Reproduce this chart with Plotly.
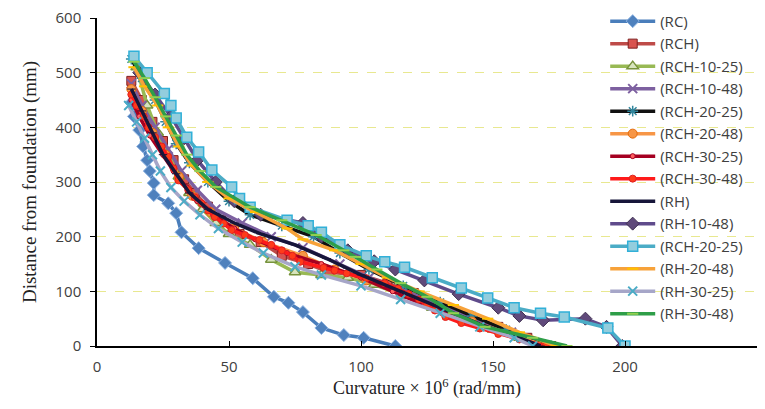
import plotly.graph_objects as go

# ---------------- data (curvature x1e6, distance from foundation) ----------------
RC_x = [13, 14, 16, 17.5, 19, 20, 21.5, 21.5, 27, 30, 32, 38.5, 48.5, 59, 67, 72.5, 78, 85, 93.5, 101, 113]
RC_y = [445, 420, 395, 365, 340, 320, 298, 276, 261, 243, 208, 179, 152, 124, 90, 79, 62, 33, 20, 15, 0]

RCH_x = [13, 17, 21, 25, 29, 33, 37, 42, 47, 54, 62, 70, 80, 88, 100, 110, 120, 130, 141, 152, 163, 172]
RCH_y = [485, 450, 410, 375, 340, 305, 280, 255, 230, 205, 190, 165, 150, 135, 130, 115, 97, 75, 55, 35, 15, 0]

RCH_10_25_x = [15, 19, 23, 27, 31, 35, 40, 45, 50, 58, 66, 75, 85, 95, 105, 117, 127, 138, 150, 160, 168]
RCH_10_25_y = [510, 440, 390, 350, 310, 280, 250, 225, 205, 185, 158, 135, 130, 125, 112, 92, 70, 50, 30, 15, 0]

RCH_10_48_x = [13, 17, 22, 27, 32, 38, 45, 55, 66, 78, 92, 103, 117, 130, 143, 157, 170]
RCH_10_48_y = [480, 440, 400, 360, 320, 285, 250, 225, 200, 180, 150, 125, 100, 75, 50, 25, 0]

RCH_20_25a_x = [13, 17, 22, 26, 30, 35, 42, 50, 58, 70, 82, 92, 103, 116, 130, 142, 155, 172]
RCH_20_25a_y = [525, 490, 450, 410, 370, 335, 300, 265, 240, 220, 200, 170, 140, 110, 80, 55, 30, 0]

RCH_20_48_x = [13, 17, 21, 26, 31, 36, 43, 52, 63, 78, 90, 102, 115, 128, 142, 158, 170]
RCH_20_48_y = [470, 430, 390, 350, 310, 275, 245, 215, 190, 165, 140, 120, 95, 70, 45, 20, 0]

RCH_30_25_x = [13, 16, 20, 25, 29, 34, 38, 44, 52, 60, 72, 85, 100, 112, 124, 138, 152, 168]
RCH_30_25_y = [450, 420, 385, 350, 320, 290, 265, 240, 215, 195, 170, 150, 125, 100, 75, 50, 25, 0]

RCH_30_48_x = [13, 15, 17.7, 19.5, 22, 24.5, 27, 29, 30.8, 34.6, 37, 39.6, 42, 44.6, 48, 51, 56, 61.5,
               66, 70, 74, 77, 85.8, 90, 94.6, 102, 109, 114, 118, 122, 125, 128, 132, 138, 145, 152, 160, 170]
RCH_30_48_y = [460, 440, 420, 400, 382, 365, 346, 325, 303, 285, 272, 261, 248, 236, 224, 212, 203, 194,
               185, 175, 165, 154, 143, 138, 133, 124, 115, 105, 95, 85, 75, 65, 53, 42, 32, 22, 12, 0]

RH_x = [13, 17, 21, 25, 30, 35, 42, 52, 62, 75, 87, 100, 115, 130, 145, 160, 168]
RH_y = [470, 430, 390, 350, 315, 280, 250, 225, 205, 185, 160, 130, 100, 70, 40, 15, 0]

RH_10_48_x = [16, 22, 28, 33, 38, 45, 52, 62, 78, 85, 95, 105, 113, 124, 137, 152, 160, 169, 185, 193, 199]
RH_10_48_y = [500, 460, 420, 380, 340, 300, 265, 240, 225, 200, 175, 155, 140, 120, 95, 70, 55, 47, 50, 35, 0]

RCH_20_25b_x = [14, 19, 25.5, 28, 30, 34, 38.5, 43.5, 51, 54, 58, 72, 80, 85, 92, 102, 109, 116.5,
                127, 138, 148, 158, 168, 177, 193.5, 200]
RCH_20_25b_y = [530, 500, 462, 440, 417, 382, 355, 322, 291, 270, 254, 230, 220, 208, 185, 165, 154, 144,
                125, 106, 88, 70, 60, 53, 33, 0]

RH_20_48_x = [14, 18, 23, 27, 31, 36, 42, 50, 60, 72, 78, 90, 100, 110, 122, 135, 148, 160, 174]
RH_20_48_y = [510, 475, 440, 400, 365, 330, 300, 270, 245, 215, 195, 175, 150, 125, 100, 75, 50, 25, 0]

RH_30_25_x = [12, 15, 18, 21, 24, 28, 33, 39, 46, 55, 63, 75, 85, 100, 115, 130, 145, 158, 165]
RH_30_25_y = [440, 410, 380, 350, 320, 290, 265, 240, 215, 190, 170, 145, 130, 110, 85, 60, 35, 15, 0]

RH_30_48_x = [14, 18, 22, 26, 30, 34, 39, 45, 58, 70, 83, 93.5, 98, 106, 115, 125, 135, 147, 165, 178]
RH_30_48_y = [520, 490, 455, 420, 385, 350, 320, 291, 254, 230, 203, 175, 163, 140, 115, 90, 60, 35, 15, 0]

x_ticks = [0, 50, 100, 150, 200, 250]
y_ticks = [0, 100, 200, 300, 400, 500, 600]

# ---------------- styling ----------------
series = [
    ("(RC)", RC_x, RC_y, "#4A7EBB", dict(symbol="diamond", size=10, color="#4F81BD", line=dict(color="#8DB3E2", width=1))),
    ("(RCH)", RCH_x, RCH_y, "#BE4B48", dict(symbol="square", size=9, color="#D9534F", line=dict(color="#7F1F1F", width=1))),
    ("(RCH-10-25)", RCH_10_25_x, RCH_10_25_y, "#98B954", dict(symbol="triangle-up", size=10, color="#D7E4BD", line=dict(color="#77933C", width=1.5))),
    ("(RCH-10-48)", RCH_10_48_x, RCH_10_48_y, "#7D60A0", dict(symbol="x-thin", size=9, color="#7D60A0", line=dict(color="#7D60A0", width=2))),
    ("(RCH-20-25)", RCH_20_25a_x, RCH_20_25a_y, "#111111", dict(symbol="asterisk", size=9, color="#4BACC6", line=dict(color="#31859C", width=1.5))),
    ("(RCH-20-48)", RCH_20_48_x, RCH_20_48_y, "#F79646", dict(symbol="circle", size=9, color="#F79646", line=dict(color="#E46C0A", width=1))),
    ("(RCH-30-25)", RCH_30_25_x, RCH_30_25_y, "#A50021", dict(symbol="circle", size=5, color="#FF6060", line=dict(color="#A50021", width=1))),
    ("(RCH-30-48)", RCH_30_48_x, RCH_30_48_y, "#FF1A1A", dict(symbol="circle", size=7, color="#FF3B1A", line=dict(color="#E02020", width=1))),
    ("(RH)", RH_x, RH_y, "#17163A", dict(symbol="line-ew", size=6, color="#17163A", line=dict(color="#17163A", width=1))),
    ("(RH-10-48)", RH_10_48_x, RH_10_48_y, "#5F4B8B", dict(symbol="diamond", size=10, color="#604A7B", line=dict(color="#403152", width=1))),
    ("(RCH-20-25)", RCH_20_25b_x, RCH_20_25b_y, "#4BACC6", dict(symbol="square", size=10, color="#93CDDD", line=dict(color="#31B0D8", width=1.5))),
    ("(RH-20-48)", RH_20_48_x, RH_20_48_y, "#F7A23A", dict(symbol="line-ew", size=8, color="#FFC000", line=dict(color="#FFC000", width=2))),
    ("(RH-30-25)", RH_30_25_x, RH_30_25_y, "#A6A6C8", dict(symbol="x-thin", size=9, color="#4BACC6", line=dict(color="#4BACC6", width=2))),
    ("(RH-30-48)", RH_30_48_x, RH_30_48_y, "#2E9E48", dict(symbol="line-ew", size=8, color="#92D050", line=dict(color="#92D050", width=2))),
]

fig = go.Figure()
for name, xs, ys, lc, mk in series:
    fig.add_trace(go.Scatter(x=xs, y=ys, name=name, mode="lines+markers",
                             line=dict(color=lc, width=3.5), marker=mk))

fig.update_layout(
    width=765, height=409,
    margin=dict(l=97, r=8, t=18, b=63, autoexpand=False),
    paper_bgcolor="white", plot_bgcolor="white",
    font=dict(family="Open Sans, sans-serif", size=14, color="#404040"),
    showlegend=True,
    legend=dict(x=0.77, y=1.04, xanchor="left", yanchor="top",
                bgcolor="rgba(0,0,0,0)", itemwidth=45, tracegroupgap=0,
                maxheight=400, borderwidth=0,
                font=dict(family="Open Sans, sans-serif", size=15, color="#404040")),
    xaxis=dict(range=[0, 250], tickvals=x_ticks, ticktext=[str(v) for v in x_ticks],
               showgrid=False, zeroline=False, showline=True, linecolor="black", linewidth=1.5,
               ticks="inside", ticklen=5, tickcolor="black", ticklabelstandoff=6,
               tickfont=dict(family="Open Sans, sans-serif", size=15, color="#404040"),
               title=dict(text="Curvature × 10<sup>6</sup> (rad/mm)", standoff=2,
                          font=dict(family="Liberation Serif, Times New Roman, serif", size=18, color="#222222"))),
    yaxis=dict(range=[0, 600], tickvals=y_ticks, ticktext=[str(v) for v in y_ticks],
               showgrid=True, gridcolor="#E8E890", griddash="dash", gridwidth=1,
               zeroline=False, showline=True, linecolor="black", linewidth=1.5,
               ticks="outside", ticklen=5, tickcolor="black", ticklabelstandoff=6,
               tickfont=dict(family="Open Sans, sans-serif", size=15, color="#404040"),
               title=dict(text="Distance from foundation (mm)", standoff=14,
                          font=dict(family="Liberation Serif, Times New Roman, serif", size=19, color="#222222"))),
)

fig.write_html("out.html")
